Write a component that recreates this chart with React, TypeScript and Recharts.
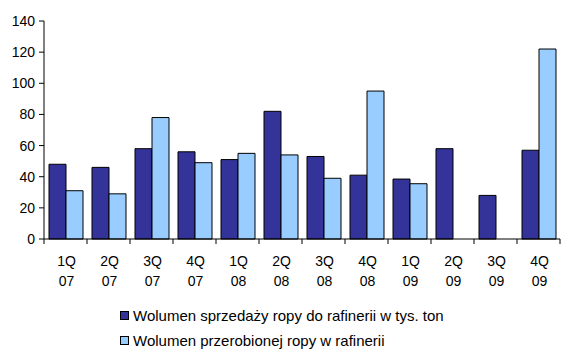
import { BarChart, Bar, XAxis, YAxis, Legend } from 'recharts';

const quarters = ['1Q 07', '2Q 07', '3Q 07', '4Q 07', '1Q 08', '2Q 08', '3Q 08', '4Q 08', '1Q 09', '2Q 09', '3Q 09', '4Q 09'];
const sales = [48, 46, 58, 56, 51, 82, 53, 41, 38.5, 58, 28, 57];
const processed: (number | null)[] = [31, 29, 78, 49, 55, 54, 39, 95, 35.5, null, null, 122];
const yTicks = [0, 20, 40, 60, 80, 100, 120, 140];

const SALES_NAME = 'Wolumen sprzedaży ropy do rafinerii w tys. ton';
const PROCESSED_NAME = 'Wolumen przerobionej ropy w rafinerii';
const SALES_COLOR = '#333399';
const PROCESSED_COLOR = '#99CCFF';

const legendOrder = [SALES_NAME, PROCESSED_NAME];

const data = quarters.map((q, i) => ({
  quarter: q,
  sales: sales[i],
  processed: processed[i],
}));

function QuarterTick(props: any) {
  const { x, y, payload, index } = props;
  const half = payload?.offset ?? 21.5;
  const [top, bottom] = String(payload.value).split(' ');
  return (
    <g>
      <line x1={x - half} y1={y} x2={x - half} y2={y + 5} stroke="#000" />
      {index === quarters.length - 1 && (
        <line x1={x + half} y1={y} x2={x + half} y2={y + 5} stroke="#000" />
      )}
      <text x={x + 1} y={y + 27} textAnchor="middle" fontSize={14} fill="#000">
        {top}
      </text>
      <text x={x + 1} y={y + 47} textAnchor="middle" fontSize={14} fill="#000">
        {bottom}
      </text>
    </g>
  );
}

function LegendBox(props: any) {
  const items = [...(props.payload || [])].sort(
    (a: any, b: any) => legendOrder.indexOf(a.value) - legendOrder.indexOf(b.value),
  );
  return (
    <div style={{ height: 48, paddingLeft: 120, paddingTop: 1 }}>
      {items.map((it: any) => (
        <div key={it.value} style={{ height: 25, display: 'flex', alignItems: 'center', fontSize: 15, color: '#000' }}>
          <span
            style={{
              display: 'inline-block',
              width: 7,
              height: 7,
              background: it.color,
              border: '1px solid #000',
              marginRight: 4,
            }}
          />
          {it.value}
        </div>
      ))}
    </div>
  );
}

export default function App() {
  return (
    <div
      style={{
        position: 'absolute',
        left: 0,
        top: 0,
        width: 561,
        height: 350,
        background: '#fff',
        fontFamily: '"Liberation Sans", Arial, sans-serif',
      }}
    >
      <BarChart
        width={561}
        height={350}
        data={data}
        margin={{ top: 21, right: 1, left: 0, bottom: 0 }}
        barSize={17}
        barGap={0}
      >
        <XAxis
          dataKey="quarter"
          interval={0}
          height={63}
          tickSize={0}
          tickMargin={0}
          tickLine={false}
          axisLine={{ stroke: '#000' }}
          tick={<QuarterTick />}
        />
        <YAxis
          width={44}
          domain={[0, 140]}
          ticks={yTicks}
          tickSize={5}
          tickMargin={4}
          axisLine={{ stroke: '#000' }}
          tickLine={{ stroke: '#000' }}
          tick={{ fontSize: 14, fill: '#000' }}
        />
        <Legend
          verticalAlign="bottom"
          content={<LegendBox />}
          wrapperStyle={{ left: 0, bottom: 0, width: 561, height: 48 }}
        />
        <Bar dataKey="sales" name={SALES_NAME} fill={SALES_COLOR} stroke="#000" strokeWidth={1} isAnimationActive={false} />
        <Bar dataKey="processed" name={PROCESSED_NAME} fill={PROCESSED_COLOR} stroke="#000" strokeWidth={1} isAnimationActive={false} />
      </BarChart>
    </div>
  );
}
